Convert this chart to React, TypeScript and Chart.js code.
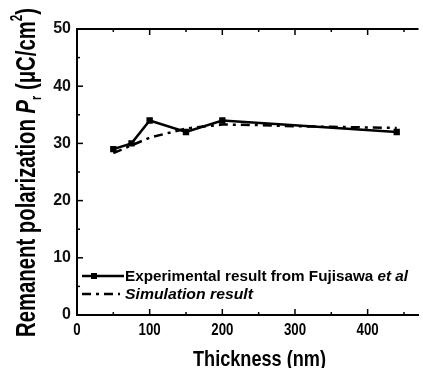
import React, { useEffect, useRef } from "react";
import { Chart, registerables } from "chart.js";

Chart.register(...registerables);

const expThickness = [50, 75, 100, 150, 200, 440];
const expPr = [29, 30, 34, 32, 34, 32];
const simThickness = [50, 100, 150, 200, 250, 300, 350, 440];
const simPr = [28.3, 31, 32.6, 33.3, 33.2, 33, 32.9, 32.7];
const xTicks = [0, 100, 200, 300, 400];
const yTicks = [0, 10, 20, 30, 40, 50];
const expLabel = "Experimental result from Fujisawa ";
const expLabelItalic = "et al";
const simLabel = "Simulation result";
const xTitle = "Thickness (nm)";

const FONT = '"Liberation Sans", Arial, sans-serif';

type Part = [string, string, number];

function partsWidth(ctx: CanvasRenderingContext2D, parts: Part[]) {
  let w = 0;
  for (const [t, f] of parts) {
    ctx.font = f;
    w += ctx.measureText(t).width;
  }
  return w;
}

// draw text parts starting at (0,0) baseline-left in current transform, scaled horizontally to targetW
function drawParts(ctx: CanvasRenderingContext2D, parts: Part[], targetW: number) {
  const natural = partsWidth(ctx, parts);
  const s = targetW / natural;
  ctx.save();
  ctx.scale(s, 1);
  ctx.textAlign = "left";
  ctx.textBaseline = "alphabetic";
  let cx = 0;
  for (const [t, f, dy] of parts) {
    ctx.font = f;
    ctx.fillText(t, cx, dy);
    cx += ctx.measureText(t).width;
  }
  ctx.restore();
}

const decor = {
  id: "decor",
  afterDraw(chart: any) {
    const { ctx, chartArea, scales } = chart;
    const x = scales.x;
    const y = scales.y;
    ctx.save();
    ctx.strokeStyle = "#000";
    ctx.fillStyle = "#000";
    // top border
    ctx.lineWidth = 2;
    ctx.beginPath();
    ctx.moveTo(chartArea.left, chartArea.top);
    ctx.lineTo(chartArea.right, chartArea.top);
    ctx.stroke();
    // ticks inward
    ctx.lineWidth = 1.5;
    for (let v = 0; v <= 470; v += 50) {
      const px = x.getPixelForValue(v);
      const len = v % 100 === 0 ? 6 : 3;
      ctx.beginPath();
      ctx.moveTo(px, chartArea.bottom);
      ctx.lineTo(px, chartArea.bottom - len);
      ctx.moveTo(px, chartArea.top);
      ctx.lineTo(px, chartArea.top + len);
      ctx.stroke();
    }
    for (let v = 0; v <= 50; v += 5) {
      const py = y.getPixelForValue(v);
      const len = v % 10 === 0 ? 6 : 3;
      ctx.beginPath();
      ctx.moveTo(chartArea.left, py);
      ctx.lineTo(chartArea.left + len, py);
      ctx.stroke();
    }
    // x tick labels (condensed bold)
    const xf = "bold 17px " + FONT;
    for (const v of xTicks) {
      const t = String(v);
      ctx.font = xf;
      const nat = ctx.measureText(t).width;
      const w = nat * 0.78;
      ctx.save();
      ctx.translate(x.getPixelForValue(v) - w / 2, 335);
      drawParts(ctx, [[t, xf, 0]], w);
      ctx.restore();
    }
    // x title
    ctx.save();
    ctx.translate(193, 366);
    drawParts(ctx, [[xTitle, "bold 22px " + FONT, 0]], 133);
    ctx.restore();
    // y title (rotated, mixed styles)
    ctx.save();
    ctx.translate(35, 337);
    ctx.rotate(-Math.PI / 2);
    const yParts: Part[] = [
      ["Remanent polarization ", "bold 28px " + FONT, 0],
      ["P", "italic bold 28px " + FONT, 0],
      ["r", "bold 15px " + FONT, 6],
      [" (\u03bcC/cm", "bold 28px " + FONT, 0],
      ["2", "bold 16px " + FONT, -13],
      [")", "bold 28px " + FONT, 0],
    ];
    drawParts(ctx, yParts, 329);
    ctx.restore();
    // legend
    const lx0 = 82;
    const lx1 = 124;
    const r1 = 276;
    const r2 = 294;
    ctx.lineWidth = 2.5;
    ctx.setLineDash([]);
    ctx.beginPath();
    ctx.moveTo(lx0, r1);
    ctx.lineTo(lx1, r1);
    ctx.stroke();
    ctx.fillRect(94 - 3, r1 - 3, 6, 6);
    ctx.setLineDash([9, 5, 3, 5]);
    ctx.beginPath();
    ctx.moveTo(lx0, r2);
    ctx.lineTo(lx1 - 4, r2);
    ctx.stroke();
    ctx.setLineDash([]);
    ctx.save();
    ctx.translate(125, 281);
    drawParts(
      ctx,
      [
        [expLabel, "bold 15px " + FONT, 0],
        [expLabelItalic, "italic bold 15px " + FONT, 0],
      ],
      283
    );
    ctx.restore();
    ctx.save();
    ctx.translate(125, 299);
    drawParts(ctx, [[simLabel, "italic bold 15px " + FONT, 0]], 128);
    ctx.restore();
    ctx.restore();
  },
};

export default function App() {
  const ref = useRef<HTMLCanvasElement>(null);
  useEffect(() => {
    if (!ref.current) return;
    const chart = new Chart(ref.current, {
      type: "line",
      data: {
        datasets: [
          {
            label: "Experimental result from Fujisawa et al",
            data: expThickness.map((t, i) => ({ x: t, y: expPr[i] })),
            borderColor: "#000",
            backgroundColor: "#000",
            borderWidth: 2.5,
            pointStyle: "rect",
            pointRadius: 4.5,
            pointBorderWidth: 0,
            tension: 0,
          },
          {
            label: "Simulation result",
            data: simThickness.map((t, i) => ({ x: t, y: simPr[i] })),
            borderColor: "#000",
            borderWidth: 2.5,
            borderDash: [9, 5, 3, 5],
            pointRadius: 0,
            tension: 0,
          },
        ],
      },
      options: {
        responsive: false,
        animation: false,
        layout: { padding: { top: 29, right: 0, left: 0, bottom: 0 } },
        plugins: { legend: { display: false }, tooltip: { enabled: false } },
        scales: {
          x: {
            type: "linear",
            min: 0,
            max: 470,
            afterBuildTicks: (s: any) => {
              s.ticks = xTicks.map((v) => ({ value: v }));
            },
            afterFit: (s: any) => {
              s.height = 53;
            },
            grid: { display: false, drawTicks: false },
            border: { display: true, color: "#000", width: 2 },
            ticks: { display: false },
          },
          y: {
            type: "linear",
            min: 0,
            max: 50,
            afterBuildTicks: (s: any) => {
              s.ticks = yTicks.map((v) => ({ value: v }));
            },
            afterFit: (s: any) => {
              s.width = 77;
            },
            grid: { display: false, drawTicks: false },
            border: { display: true, color: "#000", width: 2 },
            ticks: {
              color: "#111",
              font: { family: FONT, weight: "bold", size: 16 },
              padding: 6,
            },
          },
        },
      },
      plugins: [decor],
    } as any);
    return () => chart.destroy();
  }, []);
  return (
    <div style={{ position: "absolute", left: 0, top: 0, width: 423, height: 368, background: "#fff" }}>
      <canvas ref={ref} width={423} height={368} style={{ display: "block" }} />
    </div>
  );
}
